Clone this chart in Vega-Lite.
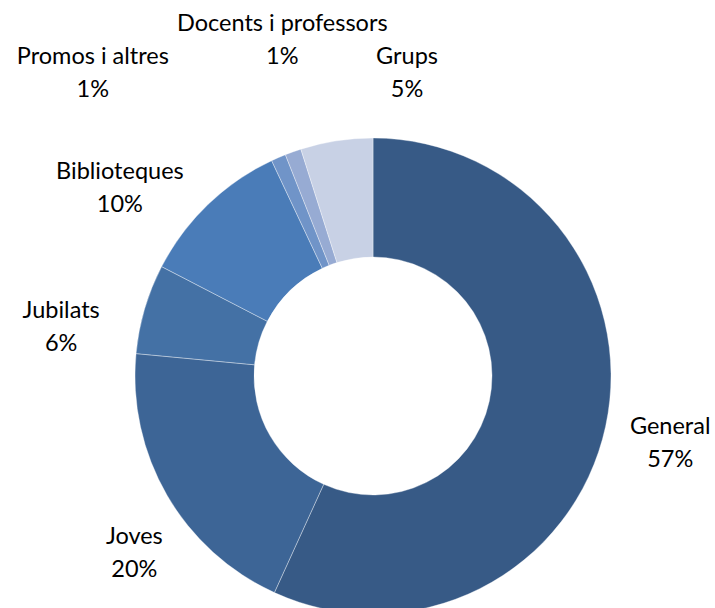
{
  "$schema": "https://vega.github.io/schema/vega-lite/v6.json",
  "autosize": {"type": "none"},
  "width": 684,
  "height": 464,
  "padding": {"left": 31, "top": 144, "right": 0, "bottom": 0},
  "background": "white",
  "config": {"view": {"stroke": null}},
  "data": {
    "values": [
      {"cat": "General", "share": 0.568},
      {"cat": "Joves", "share": 0.197},
      {"cat": "Jubilats", "share": 0.061},
      {"cat": "Biblioteques", "share": 0.104},
      {"cat": "Promos i altres", "share": 0.010},
      {"cat": "Docents i professors", "share": 0.011},
      {"cat": "Grups", "share": 0.049}
    ]
  },
  "transform": [
    {"window": [{"op": "row_number", "as": "idx"}]},
    {"calculate": "datum.cat + '\\n' + format(datum.share, '.0%')", "as": "label"}
  ],
  "encoding": {
    "theta": {"field": "share", "type": "quantitative", "stack": true},
    "order": {"field": "idx", "type": "quantitative"}
  },
  "layer": [
    {
      "mark": {"type": "arc", "outerRadius": 238, "innerRadius": 119, "stroke": "#ffffff", "strokeWidth": 0.6, "strokeOpacity": 0.6},
      "encoding": {
        "color": {
          "field": "cat",
          "type": "nominal",
          "legend": null,
          "scale": {
            "domain": ["General", "Joves", "Jubilats", "Biblioteques", "Promos i altres", "Docents i professors", "Grups"],
            "range": ["#375A86", "#3D6596", "#4471A5", "#4A7CB8", "#7094C8", "#97ABD3", "#C8D1E5"]
          }
        }
      }
    },
    {
      "mark": {
        "type": "text",
        "radius": 300,
        "font": "Lato",
        "fontSize": 23.5,
        "lineBreak": "\n",
        "lineHeight": 33,
        "align": "center",
        "baseline": "middle",
        "color": "#000000",
        "dx": {"expr": "datum.cat === 'General' ? 4 : datum.cat === 'Joves' ? 21 : datum.cat === 'Jubilats' ? -24 : datum.cat === 'Biblioteques' ? -45 : datum.cat === 'Promos i altres' ? -161 : datum.cat === 'Docents i professors' ? 10 : 80"},
        "dy": {"expr": "datum.cat === 'General' ? -13 : datum.cat === 'Joves' ? 11 : datum.cat === 'Jubilats' ? 20 : datum.cat === 'Biblioteques' ? 12 : datum.cat === 'Promos i altres' ? -44 : datum.cat === 'Docents i professors' ? -69 : -23"}
      },
      "encoding": {"text": {"field": "label", "type": "nominal"}}
    }
  ]
}
